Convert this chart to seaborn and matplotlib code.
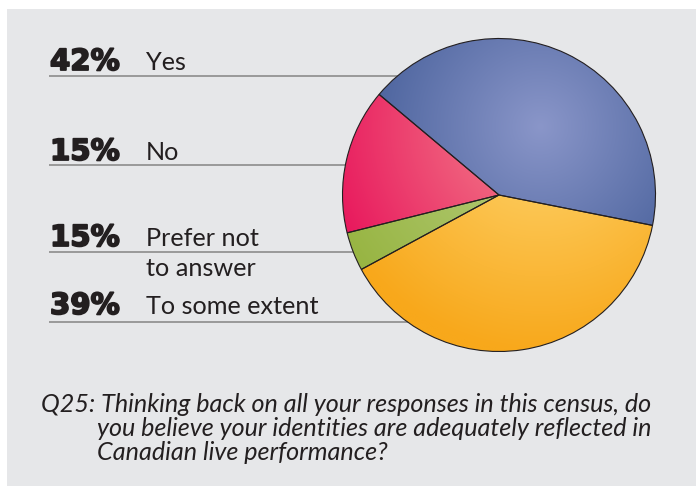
import numpy as np
import matplotlib
matplotlib.use("Agg")
import matplotlib.pyplot as plt
import matplotlib.patheffects as pe
import seaborn as sns
from matplotlib.colors import to_rgb
from matplotlib.patches import Rectangle

# ---- data ----
categories = ["Yes", "No", "Prefer not\nto answer", "To some extent"]
values = [42, 15, 4, 39]
pct_labels = ["42%", "15%", "15%", "39%"]
light_colors = ["#8a96c9", "#f4898f", "#b9d083", "#fed56f"]
dark_colors = ["#3a5591", "#e8165c", "#98b543", "#f8a81b"]
caption_lines = [
    "Q25: Thinking back on all your responses in this census, do",
    "you believe your identities are adequately reflected in",
    "Canadian live performance?",
]

sns.set_theme(style="white")
plt.rcParams['font.family'] = ['Lato', 'DejaVu Sans']

W, H = 697, 488
fig = plt.figure(figsize=(W / 100, H / 100), dpi=100)
fig.patch.set_facecolor('white')
ax = fig.add_axes([0, 0, 1, 1])
ax.set_axis_off()

ax.add_patch(Rectangle((7, 2), 689, 477, facecolor='#e6e7e9', edgecolor='none', zorder=0))

cx, cy, r = 499, H - 195, 156.5
wedges, _ = ax.pie(values, startangle=-11.2, counterclock=True, center=(cx, cy),
                   radius=r, colors=dark_colors,
                   wedgeprops=dict(edgecolor='#231f20', linewidth=0.8))

# radial shading
lx, ly = 540, H - 127
xs = np.linspace(cx - r, cx + r, 500)
ys = np.linspace(cy - r, cy + r, 500)
X, Y = np.meshgrid(xs, ys)
T = np.clip(np.hypot(X - lx, Y - ly) / 225.0, 0, 1)[..., None]
for w, lc, dc in zip(wedges, light_colors, dark_colors):
    lc = np.array(to_rgb(lc))
    dc = np.array(to_rgb(dc))
    img = lc * (1 - T) + dc * T
    im = ax.imshow(img, extent=(cx - r, cx + r, cy - r, cy + r), origin='lower',
                   zorder=3, interpolation='bilinear')
    im.set_clip_path(w)
    w.set_facecolor('none')
    w.set_zorder(4)

ax.set_xlim(0, W)
ax.set_ylim(0, H)
ax.set_aspect('equal')

# labels and leader lines
line_y = [76, 165, 252, 322]
base_y = [70, 160, 246, 314]
heavy = [pe.withStroke(linewidth=1.3, foreground='#231f20')]
for cat, pct, ly_, by in zip(categories, pct_labels, line_y, base_y):
    ax.plot([49, cx], [H - ly_, H - ly_], color='#8c8c8c', lw=1.2, zorder=1,
            solid_capstyle='butt')
    ax.text(50, H - by, pct, fontsize=21, fontweight='bold', color='#231f20',
            family=['DejaVu Sans'], va='baseline', ha='left', zorder=2,
            path_effects=heavy)
    for i, part in enumerate(cat.split("\n")):
        ax.text(146, H - by - 30 * i, part, fontsize=18.2, fontweight='normal',
                color='#231f20', va='baseline', ha='left', zorder=2)

cap_x = [41, 97, 97]
cap_y = [412, 436, 460]
for txt, x, y in zip(caption_lines, cap_x, cap_y):
    ax.text(x, H - y, txt, fontsize=18.1, style='italic', color='#231f20',
            va='baseline', ha='left')

fig.savefig("out.png", dpi=100, facecolor='white')
